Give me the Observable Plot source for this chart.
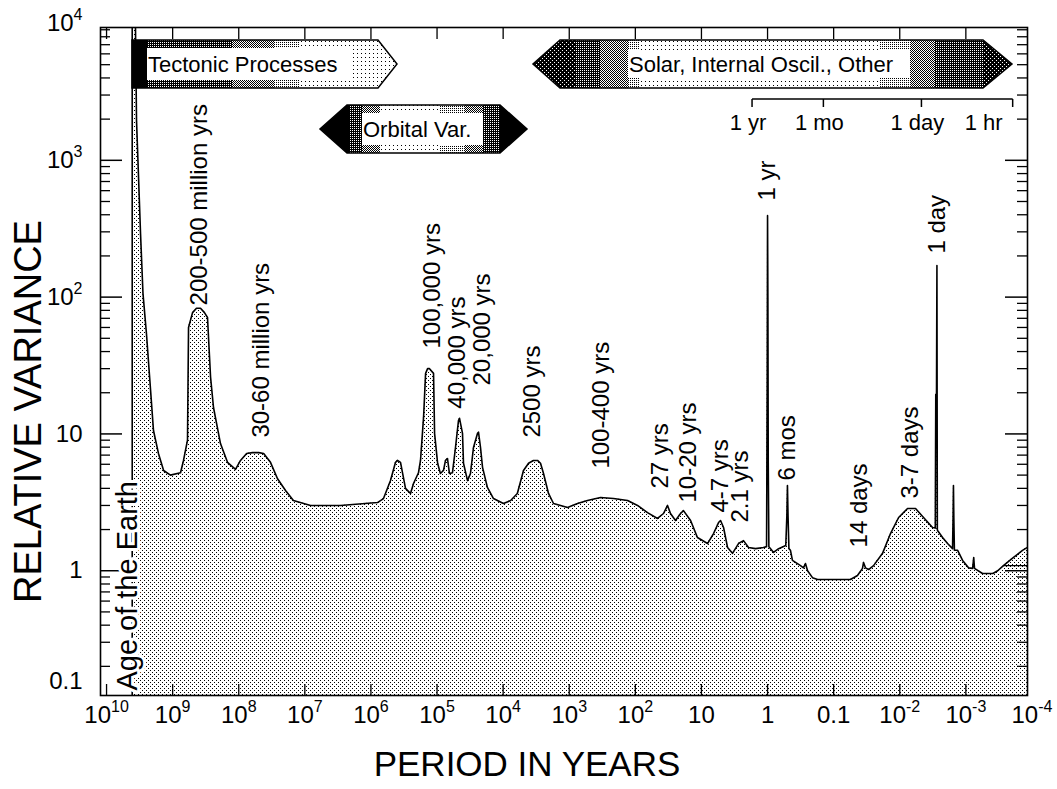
<!DOCTYPE html>
<html>
<head>
<meta charset="utf-8">
<script src="https://cdn.jsdelivr.net/npm/d3@7"></script>
<script src="https://cdn.jsdelivr.net/npm/@observablehq/plot@0.6"></script>
<style>
  html, body { margin: 0; padding: 0; background: white; }
  #chart svg { display: block; }
</style>
</head>
<body>
<div id="chart"></div>
<script>
// Spectrum of climate variability: relative variance against period (years)
const periodYears = [
  4.09e9, 4.09e9, 3.65e9, 3.52e9, 3.06e9, 2.81e9, 2.49e9, 2.16e9, 1.95e9, 1.64e9, 1.37e9, 1.08e9,
  7.6e8, 6.85e8, 5.96e8, 5.75e8, 5.0e8, 4.36e8, 3.79e8, 3.3e8, 2.97e8, 2.67e8, 2.41e8, 1.89e8, 1.48e8, 1.12e8,
  9.4e7, 7.6e7, 6.2e7, 5.0e7, 4.2e7, 3.31e7, 2.59e7, 1.96e7, 1.49e7, 8.2e6, 2.89e6,
  7.96e5, 6.46e5, 5.06e5, 4.25e5, 3.96e5, 3.57e5, 3.0e5, 2.52e5, 2.27e5, 1.91e5, 1.78e5, 1.6e5, 1.49e5, 1.39e5, 1.3e5, 1.13e5, 1.09e5,
  9.8e4, 8.9e4, 8.0e4, 7.45e4, 6.95e4, 6.5e4, 5.84e4, 5.26e4, 4.74e4, 4.57e4, 4.12e4, 3.98e4, 3.46e4, 3.12e4, 2.81e4, 2.44e4, 2.36e4, 2.2e4, 2.05e4, 1.73e4, 1.4e4,
  9.9e3, 7.7e3, 6.1e3, 4.92e3, 4.13e3, 3.48e3, 3.02e3, 2.72e3, 2.45e3, 2.06e3, 1.73e3, 1.06e3,
  750, 530, 336, 214, 131, 92.7, 65.5, 46.2, 37.5, 32.6, 29.4, 24.7, 20.7, 18.7, 14.6, 11.5,
  8.09, 6.56, 5.51, 5.14, 4.63, 4.03, 3.39, 2.75, 2.31, 1.94, 1.52, 1.15,
  1.035, 1.012, 1.0, 0.988, 0.976, 0.955,
  0.9, 0.81, 0.68, 0.53,
  0.51, 0.5, 0.49, 0.475, 0.45, 0.42, 0.317, 0.286, 0.267, 0.248, 0.209, 0.175,
  0.0556, 0.0436, 0.0366, 0.0353, 0.033, 0.0296, 0.0249, 0.0182, 0.0138, 0.0104,
  0.00762, 0.00577, 0.00437, 0.00319, 0.0029, 0.00285, 0.00278, 0.002738, 0.0027, 0.00268, 0.00225, 0.00189,
  0.00159, 0.00156, 0.00154, 0.00152, 0.00149, 0.00133, 0.00112, 0.00091, 0.00079, 0.00076, 0.00074,
  0.00056, 0.00039, 0.00033, 0.00027, 0.00019, 0.000139, 0.000117
];
const relVariance = [
  0.12, 9400, 9400, 1950, 290, 106, 54, 21, 10.6, 7.2, 5.4, 5.0,
  5.2, 6.4, 9.0, 60, 77, 83, 83, 77, 71, 26, 15.6, 8.5, 6.2, 5.5,
  6.4, 7.2, 7.3, 7.3, 7.2, 6.2, 4.7, 3.86, 3.26, 3.0, 3.0,
  3.15, 3.37, 4.56, 6.2, 6.4, 6.2, 4.0, 3.67, 4.34, 5.2, 6.4, 13.2, 27.7, 30, 30, 27.7, 10.1,
  6.1, 5.14, 5.4, 6.4, 6.6, 5.14, 5.2, 7.96, 12.5, 13, 10.1, 6.1, 4.56, 5.14, 7.96, 10.1, 10.3, 7.96, 5.7, 4.06, 3.37,
  3.1, 3.26, 3.67, 5.4, 6.1, 6.4, 6.4, 6.1, 5.14, 3.67, 3.1, 2.9,
  3.1, 3.26, 3.43, 3.37, 3.26, 3.0, 2.66, 2.41, 2.62, 3.0, 2.62, 2.33, 2.62, 2.75, 2.33, 1.75,
  1.58, 1.87, 2.25, 2.33, 2.07, 1.48, 1.34, 1.58, 1.66, 1.48, 1.45, 1.48,
  1.5, 25, 394, 99, 6.2, 1.5,
  1.45, 1.36, 1.45, 1.53,
  2.54, 4.2, 2.54, 1.45, 1.41, 1.19, 1.09, 1.05, 1.13, 1.0, 0.89, 0.863,
  0.863, 0.923, 1.04, 1.15, 1.05, 1.02, 1.09, 1.34, 1.87, 2.45,
  2.85, 2.85, 2.45, 2.07, 2.05, 19.5, 19.5, 170, 2.0, 1.97, 1.75, 1.58,
  1.45, 2.45, 4.2, 2.45, 1.41, 1.41, 1.19, 1.05, 1.04, 1.25, 1.04,
  0.955, 0.955, 1.0, 1.09, 1.25, 1.41, 1.48
];

// Second, flatter estimate at the shortest periods
const flatPeriod = [0.00027, 0.000117];
const flatVariance = [1.09, 1.09];

// Rotated annotations (anchored at their lower end)
const noteText = ["200-500 million yrs", "30-60 million yrs", "100,000 yrs", "40,000 yrs", "20,000 yrs",
  "2500 yrs", "100-400 yrs", "27 yrs", "10-20 yrs", "4-7 yrs", "2.1 yrs", "1 yr", "6 mos",
  "14 days", "3-7 days", "1 day"];
const notePeriod = [3.93e8, 4.53e7, 1.17e5, 4.91e4, 2.05e4, 3.6e3, 325, 41.6, 15.7, 5.15, 2.57,
  1.0, 0.5, 0.0406, 0.00687, 1 / 365.25];
const noteVariance = [86.9, 9.4, 42.1, 15.3, 22.6, 9.4, 5.58, 3.99, 3.15, 2.66, 2.25, 508, 4.56,
  1.48, 3.37, 208];

const ageLabel = "Age of the Earth";
const agePeriod = 4.8e9;
const ageVariance = 0.133;

// Axis ticks
const xTickValues = [1e10, 1e9, 1e8, 1e7, 1e6, 1e5, 1e4, 1e3, 1e2, 10, 1, 0.1, 1e-2, 1e-3, 1e-4];
const xTickLabels = ["10^10", "10^9", "10^8", "10^7", "10^6", "10^5", "10^4", "10^3", "10^2",
  "10", "1", "0.1", "10^-2", "10^-3", "10^-4"];
const yTickValues = [1e4, 1e3, 1e2, 10, 1];
const yTickLabels = ["10^4", "10^3", "10^2", "10", "1"];
const yBottomLabel = "0.1";

// Secondary time scale
const timeLabels = ["1 yr", "1 mo", "1 day", "1 hr"];
const timePeriods = [1, 1 / 12, 1 / 365.25, 1 / 8766];

// Forcing bands
const bandLabels = ["Tectonic Processes", "Orbital Var.", "Solar, Internal Oscil., Other"];
const bandFrom = [4.0e9, 5.8e6, 3.5e3];
const bandTo = [3.96e5, 4.3e3, 1.97e-4];

// ---- layout ----
const width = 1057, height = 789;
const marginLeft = 100, marginRight = 30, marginTop = 27, marginBottom = 94;
const frameW = width - marginLeft - marginRight;
const frameH = height - marginTop - marginBottom;
const xDomain = [10 ** 10.0915, 10 ** -3.9327];
const yDomain = [10 ** -0.912, 10 ** 3.9708];

const spectrum = periodYears.map((p, i) => ({period: p, variance: relVariance[i]}));
const flatLevel = flatPeriod.map((p, i) => ({period: p, variance: flatVariance[i]}));
const notes = noteText.map((t, i) => ({label: t, period: notePeriod[i], variance: noteVariance[i]}));
const xTicks = xTickValues.map((v, i) => ({value: v, label: xTickLabels[i]}));
const yTicks = yTickValues.map((v, i) => ({value: v, label: yTickLabels[i]}));
const xInner = xTickValues.filter(v => v < xDomain[0] && v > xDomain[1]);
const yMajor = yTickValues.filter(v => v > yDomain[0] && v < yDomain[1]);
const yMinor = [];
for (let e = -1; e <= 3; e++) {
  for (let k = 2; k <= 9; k++) {
    const v = k * 10 ** e;
    if (v > yDomain[0] && v < yDomain[1]) yMinor.push(v);
  }
}

const plot = Plot.plot({
  width, height, marginLeft, marginRight, marginTop, marginBottom,
  x: {type: "log", domain: xDomain, axis: null},
  y: {type: "log", domain: yDomain, axis: null},
  style: {fontFamily: "'Liberation Sans', Arial, Helvetica, sans-serif", fontSize: "24px", color: "black", background: "white"},
  marks: [
    Plot.areaY(spectrum, {x: "period", y1: yDomain[0], y2: "variance", fill: "url(#dots)", clip: true}),
    Plot.line(spectrum, {x: "period", y: "variance", stroke: "black", strokeWidth: 1.6, clip: true}),
    Plot.line(flatLevel, {x: "period", y: "variance", stroke: "black", strokeWidth: 1.3}),
    Plot.frame({stroke: "black", strokeWidth: 1.6}),
    Plot.tickY(yMajor, {y: d => d, insetRight: frameW - 22, strokeWidth: 1.5}),
    Plot.tickY(yMinor, {y: d => d, insetRight: frameW - 10, strokeWidth: 1.3}),
    Plot.tickY(yMajor, {y: d => d, insetLeft: frameW - 22, strokeWidth: 1.5}),
    Plot.tickY(yMinor, {y: d => d, insetLeft: frameW - 10, strokeWidth: 1.3}),
    Plot.tickX(xInner, {x: d => d, insetBottom: frameH - 12, strokeWidth: 1.3}),
    Plot.tickX(xInner, {x: d => d, insetTop: frameH - 11, strokeWidth: 1.3}),
    Plot.text(xTicks, {x: "value", text: "label", frameAnchor: "bottom", dy: 27, fontSize: 24}),
    Plot.text(yTicks, {y: "value", text: "label", frameAnchor: "left", dx: -18, textAnchor: "end", fontSize: 24}),
    Plot.text([yBottomLabel], {frameAnchor: "bottom-left", dx: -18, dy: -7, textAnchor: "end", fontSize: 24}),
    Plot.text(["RELATIVE VARIANCE"], {frameAnchor: "left", dx: -72, dy: 50, rotate: -90, textAnchor: "middle", fontSize: 38}),
    Plot.text(["PERIOD IN YEARS"], {frameAnchor: "bottom", dx: -37, dy: 80, textAnchor: "middle", fontSize: 35}),
    Plot.text(notes, {x: "period", y: "variance", text: "label", rotate: -90, textAnchor: "start", fontSize: 24}),
    Plot.text([{label: ageLabel, period: agePeriod, variance: ageVariance}],
      {x: "period", y: "variance", text: "label", rotate: -90, textAnchor: "start", fontSize: 29,
       fill: "black", stroke: "white", strokeWidth: 6})
  ]
});

document.getElementById("chart").appendChild(plot);

const svg = d3.select(plot);
const sx = plot.scale("x");

// Superscript exponents in "10^n" labels
svg.selectAll("text").each(function () {
  const m = /^10\^(-?\d+)$/.exec(this.textContent);
  if (!m) return;
  this.textContent = "10";
  d3.select(this).append("tspan").attr("dy", "-11px").attr("font-size", "16px").text(m[1]);
});

// Dither patterns
const defs = svg.insert("defs", ":first-child");
function pattern(id, size, bg, fg, cells) {
  const p = defs.append("pattern").attr("id", id).attr("patternUnits", "userSpaceOnUse")
    .attr("x", 0).attr("y", 0).attr("width", size).attr("height", size);
  p.append("rect").attr("width", size).attr("height", size).attr("fill", bg);
  for (const [cx, cy] of cells) p.append("rect").attr("x", cx).attr("y", cy).attr("width", 1).attr("height", 1).attr("fill", fg);
}
pattern("dots", 4, "white", "black", [[0, 0], [2, 2]]);
pattern("d6", 4, "white", "black", [[1, 1]]);
pattern("d25", 2, "white", "black", [[0, 0]]);
pattern("d50", 2, "white", "black", [[0, 0], [1, 1]]);
pattern("d75", 2, "black", "white", [[0, 0]]);
pattern("d88", 4, "black", "white", [[0, 0], [2, 2]]);

// Forcing band arrows
const bandStyle = [
  {top: 40, bottom: 88, tipL: 0, tipR: 19, box: [15, 221], inset: 8,
   segs: [[0, 15, "black"], [15, 100, "d75"], [100, 142, "d50"], [142, 167, "d25"], [167, 400, "d6"]]},
  {top: 105, bottom: 153, tipL: 27, tipR: 27, box: [42, 163], inset: 8,
   segs: [[0, 30, "black"], [30, 42, "d75"], [42, 60, "d50"], [60, 120, "d6"], [120, 145, "d25"],
          [145, 163, "d50"], [163, 180, "d75"], [180, 400, "black"]]},
  {top: 40, bottom: 88, tipL: 27, tipR: 29, box: [95, 377], inset: 10,
   segs: [[0, 42, "d88"], [42, 67, "d75"], [67, 95, "d50"], [95, 107, "d25"], [107, 347, "d6"],
          [347, 377, "d25"], [377, 402, "d50"], [402, 450, "d75"], [450, 700, "d88"]]}
];
const bands = svg.append("g").attr("class", "bands");
bandLabels.forEach((label, i) => {
  const s = bandStyle[i];
  const x0 = Math.round(sx.apply(bandFrom[i])), x1 = Math.round(sx.apply(bandTo[i]));
  const ym = (s.top + s.bottom) / 2;
  const pts = [[x0 + s.tipL, s.top], [x1 - s.tipR, s.top], [x1, ym], [x1 - s.tipR, s.bottom],
               [x0 + s.tipL, s.bottom], [x0, ym]];
  if (s.tipL === 0) pts.splice(5, 1, [x0, s.bottom], [x0, s.top]);
  const clipId = "band-clip-" + i;
  defs.append("clipPath").attr("id", clipId).append("polygon").attr("points", pts.join(" "));
  const g = bands.append("g");
  const inner = g.append("g").attr("clip-path", `url(#${clipId})`);
  for (const [a, b, pat] of s.segs) {
    inner.append("rect").attr("x", x0 + a).attr("y", s.top).attr("width", b - a).attr("height", s.bottom - s.top)
      .attr("fill", pat === "black" ? "black" : `url(#${pat})`);
  }
  inner.append("rect").attr("x", x0 + s.box[0]).attr("y", s.top + s.inset)
    .attr("width", s.box[1] - s.box[0]).attr("height", s.bottom - s.top - 2 * s.inset).attr("fill", "white");
  g.append("polygon").attr("points", pts.join(" ")).attr("fill", "none").attr("stroke", "black").attr("stroke-width", 1.5);
  g.append("text").attr("x", x0 + s.box[0] + 1).attr("y", ym + 8).attr("text-anchor", "start")
    .attr("font-size", 22).attr("fill", "black").text(label);
});

// Secondary time scale (1 yr ... 1 hr)
const tg = svg.append("g").attr("class", "time-scale");
const tx = timePeriods.map(p => sx.apply(p) - 15);
tg.append("line").attr("x1", tx[0]).attr("x2", tx[tx.length - 1]).attr("y1", 99).attr("y2", 99)
  .attr("stroke", "black").attr("stroke-width", 1.5);
tx.forEach((x, i) => {
  const last = i === tx.length - 1;
  tg.append("line").attr("x1", x).attr("x2", x).attr("y1", 99).attr("y2", 107).attr("stroke", "black").attr("stroke-width", 1.5);
  tg.append("text").attr("x", last ? x - 10 : x - 4).attr("y", 130)
    .attr("text-anchor", last ? "end" : "middle").attr("font-size", 22).text(timeLabels[i]);
});
</script>
</body>
</html>
